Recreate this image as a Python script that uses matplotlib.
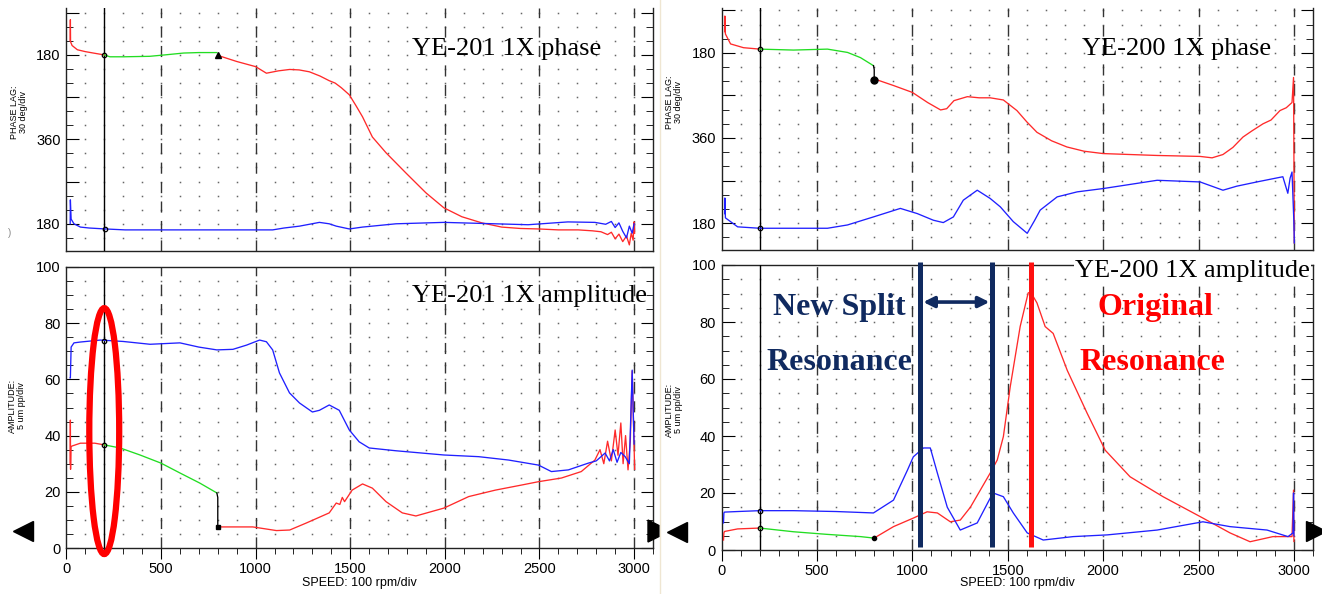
import matplotlib
matplotlib.use('Agg')
import matplotlib.pyplot as plt
import numpy as np
from matplotlib.patches import Ellipse, Polygon
from matplotlib.lines import Line2D
from matplotlib.ticker import FixedLocator, MultipleLocator

W, H = 1322, 594

cursor_rpm = 200
split_rpm = [1042, 1419]
original_rpm = 1623

# ---------- YE-201 (left) ----------
l_ph_red_a_rpm = [20, 21, 22, 30, 58, 100, 142, 200]
l_ph_red_a = [150, 105, 152, 160, 169, 173, 176, 180]
l_ph_green_rpm = [200, 230, 300, 440, 520, 620, 700, 795]
l_ph_green = [180, 184, 184, 183, 180, 176, 175, 175]
l_ph_red_b_rpm = [800, 900, 1000, 1057, 1120, 1180, 1230, 1284, 1340, 1389, 1420, 1440,
                  1453, 1495, 1530, 1565, 1617, 1690, 1795, 1900, 1995, 2090, 2195, 2300,
                  2400, 2495, 2600, 2705, 2780, 2825, 2860, 2880, 2900, 2920, 2940, 2960,
                  2975, 2985, 2995, 3000, 3003]
l_ph_red_b = [181, 194, 205, 219, 214, 211, 212, 216, 225, 235, 240, 246,
              250, 265, 288, 312, 355, 389, 432, 474, 506, 525, 538, 547,
              550, 551, 553, 553, 555, 557, 563, 558, 572, 562, 578, 566,
              585, 560, 575, 536, 560]
l_ph_blue_rpm = [20, 21, 25, 40, 74, 120, 205, 310, 500, 800, 1000, 1090, 1150, 1232,
                 1337, 1389, 1426, 1495, 1565, 1742, 1995, 2265, 2440, 2650, 2793, 2850,
                 2880, 2900, 2920, 2940, 2960, 2975, 2990, 3000]
l_ph_blue = [540, 489, 530, 540, 547, 549, 551, 553, 553, 553, 553, 553, 549, 545,
             537, 540, 545, 551, 547, 540, 537, 540, 542, 536, 537, 541,
             535, 548, 538, 556, 570, 545, 560, 540]

l_am_blue_rpm = [20, 21, 25, 40, 74, 180, 300, 442, 600, 700, 795, 880, 952, 1021, 1057,
                 1090, 1126, 1179, 1232, 1300, 1337, 1389, 1442, 1495, 1547, 1600, 1742,
                 1995, 2179, 2337, 2495, 2563, 2653, 2758, 2800, 2847, 2870, 2890, 2910,
                 2930, 2953, 2975, 2990, 2995, 3000]
l_am_blue = [60.5, 60.5, 71.5, 73, 73.3, 74, 73.5, 72.5, 73, 71.5, 70.5, 70.7, 72.2, 74, 73.4,
             70.5, 62.3, 55.2, 51.6, 48.4, 49, 50.9, 49, 42, 37.8, 35.6, 34.6,
             33.1, 32.5, 31.3, 29.5, 27.2, 27.8, 30.2, 31, 33.8, 31, 35, 30.5,
             34, 32.5, 30, 63.3, 50, 37]
l_am_red_a_rpm = [20, 21, 22, 24, 30, 74, 150, 200]
l_am_red_a = [30, 45.5, 28, 36, 36.3, 37.3, 37.3, 36.7]
l_am_green_rpm = [200, 284, 389, 500, 600, 705, 795]
l_am_green = [36.7, 35.6, 33.1, 30.2, 26.7, 23.1, 19.6]
l_am_black_rpm = [795, 800, 800]
l_am_black = [19.6, 18, 7.5]
l_am_red_b_rpm = [800, 985, 1110, 1180, 1268, 1389, 1426, 1445, 1458, 1470, 1510, 1565,
                  1617, 1689, 1775, 1847, 1995, 2126, 2267, 2405, 2495, 2616, 2721, 2793,
                  2820, 2840, 2860, 2880, 2900, 2915, 2930, 2942, 2955, 2968, 2980, 2990,
                  2997, 3003]
l_am_red_b = [7.5, 7.5, 6.2, 6.4, 8.9, 12.5, 16, 15.5, 18, 16.5, 20.6, 22.8,
              21.3, 16.5, 12.5, 11.4, 14.2, 18.3, 20.6, 22.4, 23.6, 24.9, 27.2, 31.3,
              35, 30, 38, 31, 42, 33, 44.5, 30, 40, 27.8, 38, 63, 45, 28]

# ---------- YE-200 (right) ----------
r_ph_red_a_rpm = [16, 17, 20, 47, 115, 200]
r_ph_red_a = [135, 102, 140, 161, 169, 172]
r_ph_green_rpm = [200, 377, 555, 660, 728, 796]
r_ph_green = [172, 174, 172, 179, 190, 207]
r_ph_black_rpm = [796, 800, 800]
r_ph_black = [207, 215, 238]
r_ph_red_b_rpm = [800, 901, 1000, 1080, 1148, 1180, 1218, 1288, 1350, 1408, 1477, 1548,
                  1600, 1653, 1730, 1810, 1900, 2000, 2283, 2508, 2571, 2628, 2680, 2733,
                  2780, 2838, 2880, 2927, 2960, 2990, 2998, 3000, 3002]
r_ph_red_b = [235, 249, 263.6, 285, 300.7, 298, 281, 272.6, 275, 275, 279.6, 302,
              326, 348, 366, 379, 388, 393, 397, 399, 402, 395, 380, 358,
              345, 330, 322, 302, 296, 285, 232, 400, 582]
r_ph_blue_rpm = [16, 17, 20, 84, 200, 555, 660, 796, 937, 1026, 1110, 1162, 1215, 1267,
                 1340, 1408, 1461, 1529, 1602, 1640, 1670, 1759, 1864, 2000, 2283, 2508,
                 2628, 2700, 2806, 2880, 2942, 2968, 2980, 2990, 3000, 3002]
r_ph_blue = [520, 487, 529, 548, 551, 551, 544, 527, 509, 520, 534, 539, 527, 491.6,
             470.5, 488, 505.7, 537, 561.7, 535, 512.6, 484.6, 474, 467, 449.5, 453,
             470.5, 462, 453, 447, 442, 477, 445, 432, 540, 582]

r_am_blue_rpm = [10, 12, 15, 84, 200, 377, 600, 796, 901, 974, 1005, 1058, 1094, 1131,
                 1183, 1251, 1340, 1408, 1424, 1477, 1529, 1602, 1686, 1843, 2021, 2283,
                 2523, 2665, 2859, 2969, 2995, 2998, 3000]
r_am_blue = [9.5, 13, 13.3, 13.5, 13.8, 13.8, 13.5, 13, 17.5, 28, 32.7, 35.8, 35.8, 27,
             15, 7, 9.5, 18.2, 20, 18.7, 13, 6, 3.5, 4.7, 5.3, 7,
             9.9, 8.2, 7, 4.7, 6, 20, 5]
r_am_red_a_rpm = [10, 12, 15, 84, 200]
r_am_red_a = [3.5, 6, 6.5, 7.4, 7.7]
r_am_green_rpm = [200, 377, 550, 728, 796]
r_am_green = [7.7, 6.4, 5.5, 4.7, 4.2]
r_am_red_b_rpm = [800, 901, 1005, 1077, 1131, 1199, 1251, 1304, 1408, 1445, 1477, 1513,
                  1565, 1607, 1620, 1653, 1696, 1738, 1812, 1916, 2011, 2141, 2314, 2523,
                  2665, 2770, 2890, 2990, 2998, 3000]
r_am_red_b = [4.2, 8.2, 11.2, 13.4, 13, 9.9, 10.5, 15, 27, 31.6, 39.8, 57.3,
              78.4, 90.2, 90.5, 86.7, 78.4, 76, 63, 48, 35, 25.7, 18.7, 11.2,
              6, 2.9, 4.7, 4.7, 21, 3]

phase_ticks = [90, 180, 270, 360, 450, 540]
phase_labels = ['', '180', '', '360', '', '180']

RED = '#ff2a2a'
GREEN = '#22dd22'
BLUE = '#2020ff'
NAVY = '#102a60'

plt.rcParams['font.family'] = 'Liberation Sans'
fig = plt.figure(figsize=(W / 100, H / 100), dpi=100)


def px_axes(left, top, right, bottom):
    return fig.add_axes([left / W, 1 - bottom / H, (right - left) / W, (bottom - top) / H])


def dress(ax, kind, ylim):
    ax.set_xlim(0, 3100)
    ax.set_ylim(*ylim)
    for s in ax.spines.values():
        s.set_linewidth(1.0)
        s.set_color('#222222')
    xs = np.arange(100, 3001, 100)
    ys = np.arange(90, 571, 30) if kind == 'phase' else np.arange(5, 100, 5)
    gx, gy = np.meshgrid(xs, ys)
    ax.plot(gx.ravel(), gy.ravel(), ls='none', marker='s', ms=1.1,
            mfc='#666666', mec='none', zorder=0)
    for v in range(500, 3001, 500):
        ax.axvline(v, color='#333333', lw=1.0, dashes=(8, 6), zorder=1)
    ax.axvline(cursor_rpm, color='black', lw=1.0, zorder=3)
    if kind == 'phase':
        ax.spines['top'].set_visible(False)
        ax.yaxis.set_major_locator(FixedLocator(phase_ticks))
        ax.set_yticklabels(phase_labels)
        ax.yaxis.set_minor_locator(MultipleLocator(30))
        ax.tick_params(axis='x', which='both', bottom=False, labelbottom=False)
    else:
        ax.yaxis.set_major_locator(MultipleLocator(20))
        ax.yaxis.set_minor_locator(MultipleLocator(5))
        ax.xaxis.set_minor_locator(MultipleLocator(100))
        ax.set_xticks([0, 500, 1000, 1500, 2000, 2500, 3000])
        ax.tick_params(axis='x', which='major', direction='out', length=8, pad=2,
                       labelsize=10.5)
        ax.tick_params(axis='x', which='minor', direction='out', length=4.5)
    ax.tick_params(axis='y', which='major', direction='in', left=True, right=True,
                   length=9, pad=4, labelsize=10.5)
    ax.tick_params(axis='y', which='minor', direction='in', left=True, right=True,
                   length=5)


def curve(ax, x, y, c):
    ax.plot(x, y, color=c, lw=0.95, zorder=4)


def dot(ax, x, y):
    ax.plot([x], [y], ls='none', marker='o', ms=3.2, mfc='none', mec='black',
            mew=0.9, zorder=6)


ax_lp = px_axes(66.4, 8, 653, 251)
ax_la = px_axes(66.4, 267, 653, 548)
ax_rp = px_axes(721.6, 8, 1313, 250)
ax_ra = px_axes(721.6, 265, 1313, 550)

dress(ax_lp, 'phase', (598, 80))
dress(ax_la, 'amp', (0, 100))
dress(ax_rp, 'phase', (597, 85))
dress(ax_ra, 'amp', (0, 100))

# left phase
curve(ax_lp, l_ph_red_a_rpm, l_ph_red_a, RED)
curve(ax_lp, l_ph_green_rpm, l_ph_green, GREEN)
curve(ax_lp, l_ph_red_b_rpm, l_ph_red_b, RED)
curve(ax_lp, l_ph_blue_rpm, l_ph_blue, BLUE)
dot(ax_lp, l_ph_green_rpm[0], l_ph_green[0])
dot(ax_lp, l_ph_blue_rpm[6], l_ph_blue[6])
ax_lp.plot([l_ph_red_b_rpm[0]], [l_ph_red_b[0]], ls='none', marker='^', ms=4,
           color='black', zorder=6)

# left amplitude
curve(ax_la, l_am_red_a_rpm, l_am_red_a, RED)
curve(ax_la, l_am_green_rpm, l_am_green, GREEN)
curve(ax_la, l_am_black_rpm, l_am_black, 'black')
curve(ax_la, l_am_red_b_rpm, l_am_red_b, RED)
curve(ax_la, l_am_blue_rpm, l_am_blue, BLUE)
dot(ax_la, l_am_green_rpm[0], l_am_green[0])
dot(ax_la, cursor_rpm, 73.5)
ax_la.plot([l_am_red_b_rpm[0]], [l_am_red_b[0]], ls='none', marker='s', ms=3,
           color='black', zorder=6)
ax_la.add_patch(Ellipse((cursor_rpm, 41.6), 158, 87.5, fill=False, ec='#ff0000',
                        lw=4.5, clip_on=False, zorder=7))

# right phase
curve(ax_rp, r_ph_red_a_rpm, r_ph_red_a, RED)
curve(ax_rp, r_ph_green_rpm, r_ph_green, GREEN)
curve(ax_rp, r_ph_black_rpm, r_ph_black, 'black')
curve(ax_rp, r_ph_red_b_rpm, r_ph_red_b, RED)
curve(ax_rp, r_ph_blue_rpm, r_ph_blue, BLUE)
dot(ax_rp, r_ph_green_rpm[0], r_ph_green[0])
dot(ax_rp, r_ph_blue_rpm[4], r_ph_blue[4])
ax_rp.plot([r_ph_black_rpm[-1]], [r_ph_black[-1]], ls='none', marker='o', ms=5,
           color='black', zorder=6)

# right amplitude
curve(ax_ra, r_am_red_a_rpm, r_am_red_a, RED)
curve(ax_ra, r_am_green_rpm, r_am_green, GREEN)
curve(ax_ra, r_am_red_b_rpm, r_am_red_b, RED)
curve(ax_ra, r_am_blue_rpm, r_am_blue, BLUE)
dot(ax_ra, r_am_green_rpm[0], r_am_green[0])
dot(ax_ra, r_am_blue_rpm[4], r_am_blue[4])
ax_ra.plot([r_am_red_b_rpm[0]], [r_am_red_b[0]], ls='none', marker='o', ms=3,
           color='black', zorder=6)
for v in split_rpm:
    ax_ra.plot([v, v], [1, 101.2], color=NAVY, lw=3.6, clip_on=False, zorder=8,
               solid_capstyle='butt')
ax_ra.plot([original_rpm, original_rpm], [1, 101.2], color='#ff1010', lw=3.6,
           clip_on=False, zorder=8, solid_capstyle='butt')
ax_ra.annotate('', xy=(split_rpm[1] - 15, 87), xytext=(split_rpm[0] + 15, 87),
               arrowprops=dict(arrowstyle='<|-|>', color=NAVY, lw=2.6,
                               mutation_scale=16, shrinkA=0, shrinkB=0), zorder=8)


def ftext(px, py, s, **kw):
    fig.text(px / W, 1 - py / H, s, **kw)


serif = dict(fontfamily='Liberation Serif', fontsize=19, va='baseline', ha='left')
ftext(412, 55, 'YE-201 1X phase', **serif)
ftext(412, 302, 'YE-201 1X amplitude', **serif)
ftext(1082, 55, 'YE-200 1X phase', **serif)
ftext(1075, 277, 'YE-200 1X amplitude',
      bbox=dict(facecolor='white', edgecolor='none', pad=1), **serif)

bold = dict(fontfamily='Liberation Serif', fontsize=23, fontweight='bold',
            va='baseline', ha='center')
ftext(839, 315, 'New Split', color=NAVY, **bold)
ftext(839, 370, 'Resonance', color=NAVY, **bold)
ftext(1155, 315, 'Original', color='#ff0000', **bold)
ftext(1152, 370, 'Resonance', color='#ff0000', **bold)

small = dict(fontsize=6.5, rotation=90, ha='center', va='center', linespacing=1.0)
ftext(19, 112, 'PHASE LAG:\n30 deg/div', **small)
ftext(17, 406, 'AMPLITUDE:\n5 um pp/div', **small)
ftext(674, 102, 'PHASE LAG:\n30 deg/div', **small)
ftext(674, 410, 'AMPLITUDE:\n5 um pp/div', **small)
ftext(10, 233, ')', fontsize=7, color='#888888', ha='center', va='center')

ftext(359, 583, 'SPEED: 100 rpm/div', fontsize=9, ha='center', va='center')
ftext(1017, 583, 'SPEED: 100 rpm/div', fontsize=9, ha='center', va='center')

# separator between the two screenshots and the cursor arrows
fig.add_artist(Line2D([660 / W, 660 / W], [0, 1], color='#efe6d2', lw=1.0,
                      transform=fig.transFigure))
for px, py, m in [(23, 531, '<'), (677, 532, '<'), (1316, 531, '>')]:
    fig.add_artist(Line2D([px / W], [1 - py / H], marker=m, ms=14, color='black',
                          transform=fig.transFigure))
tri = [(648, 520), (659, 525.5), (659, 536.5), (648, 542)]
fig.add_artist(Polygon([(x / W, 1 - y / H) for x, y in tri], closed=True,
                       color='black', transform=fig.transFigure))

fig.savefig('out.png', dpi=100)
